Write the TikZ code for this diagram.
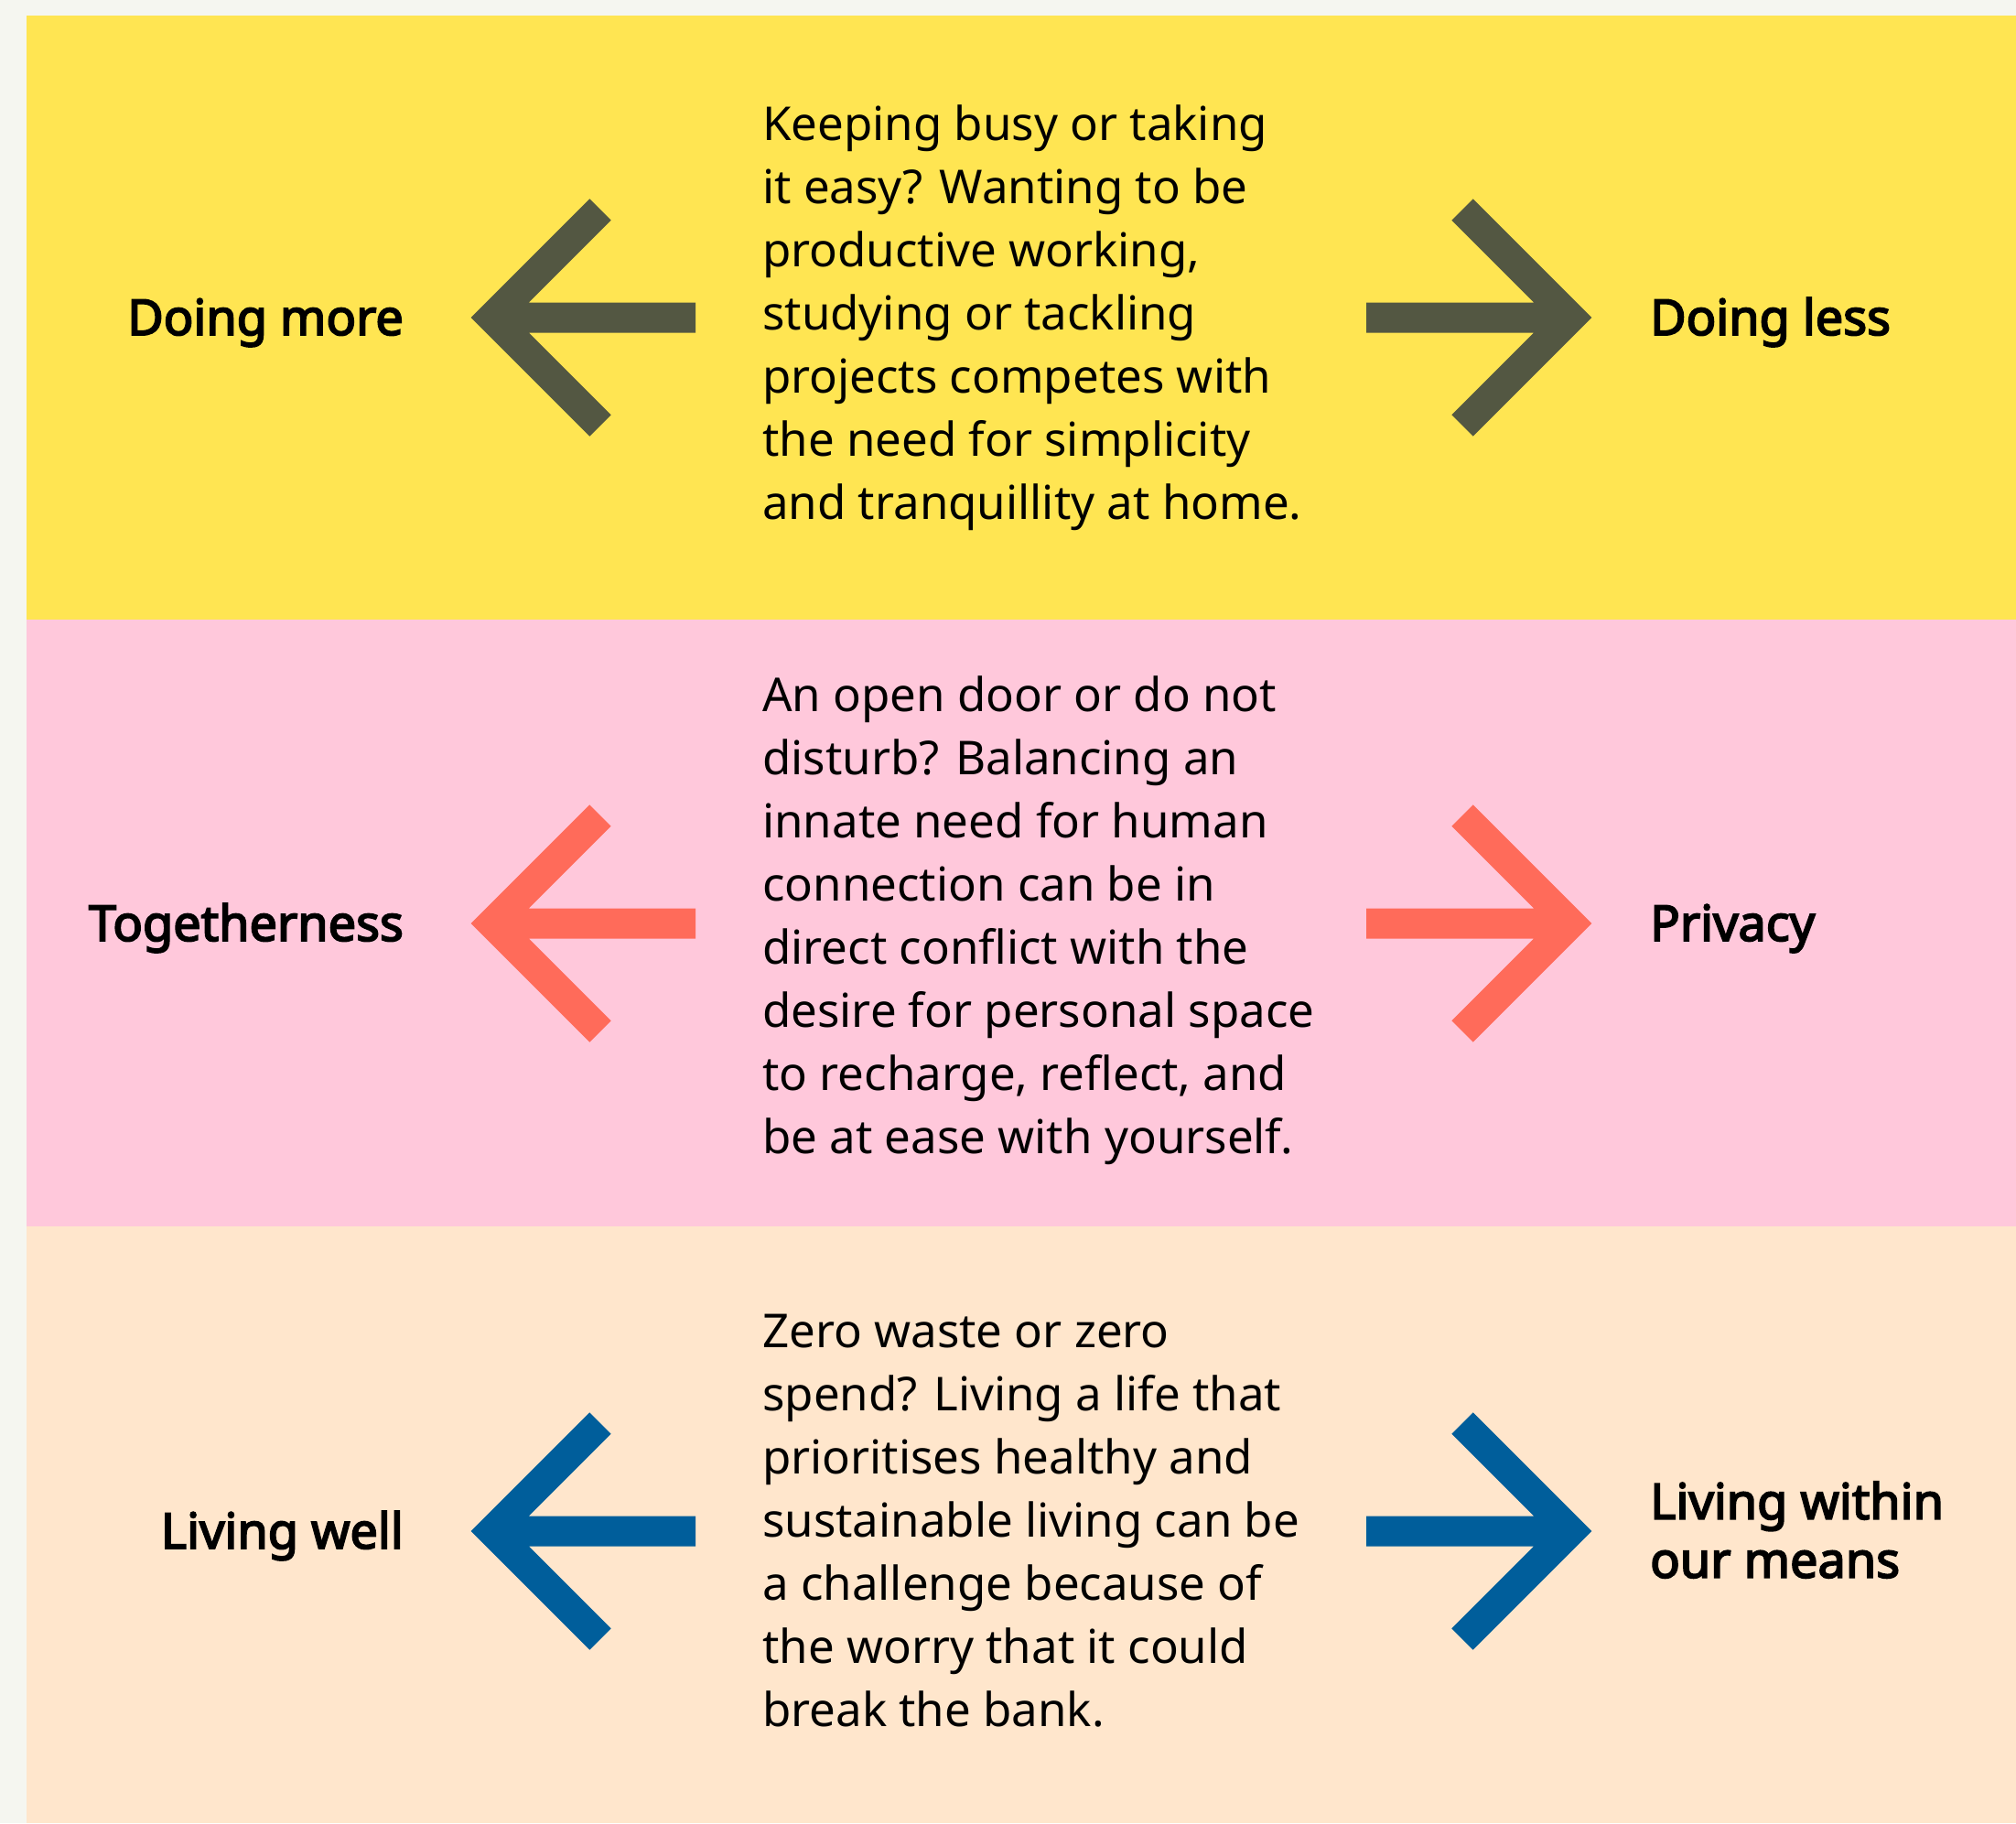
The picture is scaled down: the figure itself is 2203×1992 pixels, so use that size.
\documentclass[tikz,border=0pt]{standalone}
\usepackage{fontspec}
\setmainfont{Noto Sans}[AutoFakeBold=3.4]
\definecolor{paper}{HTML}{F5F6F0}
\definecolor{bandyellow}{HTML}{FFE552}
\definecolor{bandpink}{HTML}{FFC8DB}
\definecolor{bandpeach}{HTML}{FFE6CC}
\definecolor{arrowolive}{HTML}{535742}
\definecolor{arrowcoral}{HTML}{FF6B5A}
\definecolor{arrowblue}{HTML}{005E9B}
\tikzset{
	pole/.style={font=\bfseries\fontsize{54}{64}\selectfont,inner sep=0pt,align=left},
	blurb/.style={font=\fontsize{51}{69}\selectfont,inner sep=0pt,align=left,anchor=west},
	chevron/.style={line width=33pt,line join=miter}
}
\begin{document}
\begin{tikzpicture}[x=1pt,y=-1pt]
	\useasboundingbox (0,0) rectangle (2203,1992);
	% bands
	\fill[paper] (0,0) rectangle (2203,1992);
	\fill[bandyellow] (29,17) rectangle (2203,677);
	\fill[bandpink] (29,677) rectangle (2203,1340);
	\fill[bandpeach] (29,1340) rectangle (2203,1992);
	% doing more / doing less
	\draw[chevron,arrowolive] (656,229) -- (538,347) -- (656,465) (538,347) -- (760,347);
	\draw[chevron,arrowolive] (1598,229) -- (1716,347) -- (1598,465) (1716,347) -- (1493,347);
	\node[pole,anchor=base east] (more) at (441,366) {Doing more};
	\node[pole,anchor=base west] (less) at (1803,366) {Doing less};
	\node[blurb] (busy) at (833,347) {\strut Keeping busy or taking\\it easy? Wanting to be\\productive working,\\studying or tackling\\projects competes with\\the need for simplicity\\and tranquillity at home.\strut};
	% togetherness / privacy
	\draw[chevron,arrowcoral] (656,891) -- (538,1009) -- (656,1127) (538,1009) -- (760,1009);
	\draw[chevron,arrowcoral] (1598,891) -- (1716,1009) -- (1598,1127) (1716,1009) -- (1493,1009);
	\node[pole,anchor=base east] (together) at (441,1028) {Togetherness};
	\node[pole,anchor=base west] (privacy) at (1803,1028) {Privacy};
	\node[blurb] (door) at (833,1005) {\strut An open door or do not\\disturb? Balancing an\\innate need for human\\connection can be in\\direct conflict with the\\desire for personal space\\to recharge, reflect, and\\be at ease with yourself.\strut};
	% living well / within our means
	\draw[chevron,arrowblue] (656,1555) -- (538,1673) -- (656,1791) (538,1673) -- (760,1673);
	\draw[chevron,arrowblue] (1598,1555) -- (1716,1673) -- (1598,1791) (1716,1673) -- (1493,1673);
	\node[pole,anchor=base east] (well) at (441,1692) {Living well};
	\node[pole,anchor=west] (means) at (1803,1679) {\strut Living within\\our means\strut};
	\node[blurb] (waste) at (833,1666) {\strut Zero waste or zero\\spend? Living a life that\\prioritises healthy and\\sustainable living can be\\a challenge because of\\the worry that it could\\break the bank.\strut};
\end{tikzpicture}
\end{document}
